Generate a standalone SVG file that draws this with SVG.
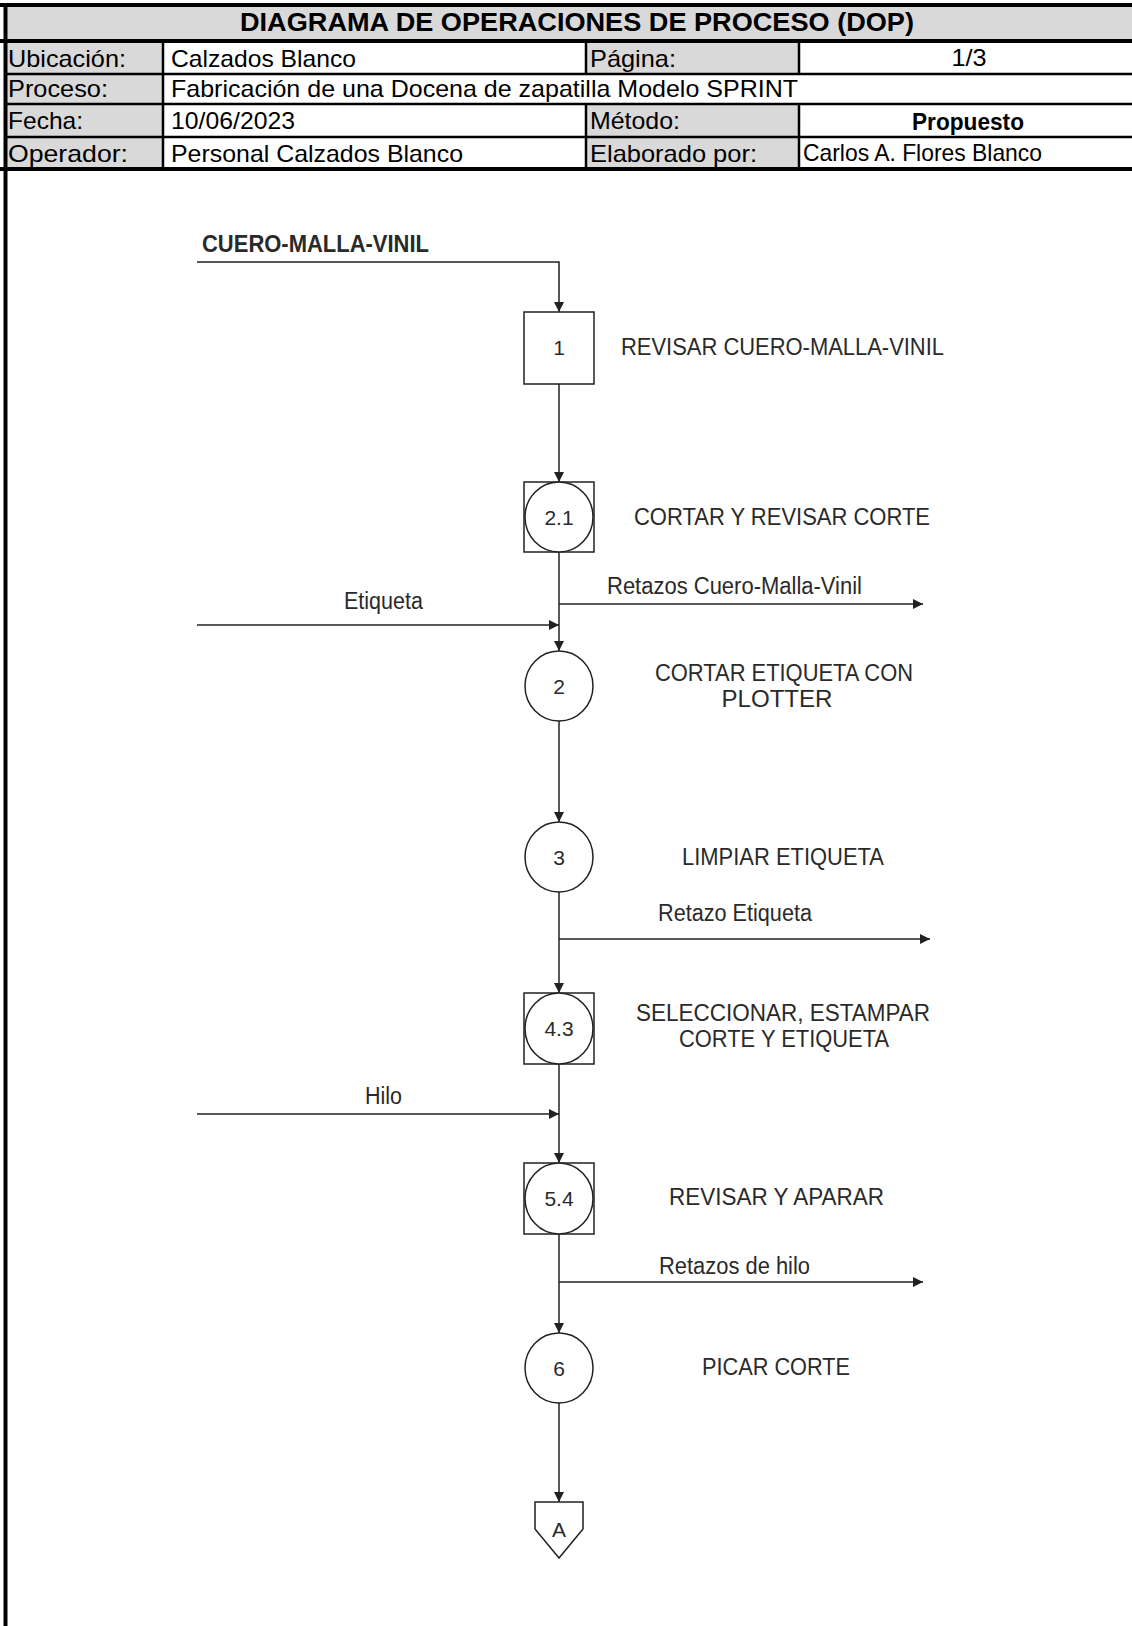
<svg xmlns="http://www.w3.org/2000/svg" width="1132" height="1626" viewBox="0 0 1132 1626">
<defs>
<style>
.hdr{font-family:"Liberation Sans",Arial,sans-serif;font-size:24px;fill:#000}
.ttl{font-family:"Liberation Sans",Arial,sans-serif;font-size:26px;font-weight:bold;fill:#000}
.t{font-family:"Liberation Sans",Arial,sans-serif;font-size:23px;fill:#2a2a2a}
.n{font-family:"Liberation Sans",Arial,sans-serif;font-size:21px;fill:#2a2a2a;text-anchor:middle}
.grey{fill:#d9d9d9}
.thick{stroke:#000;stroke-width:4}
.thin{stroke:#000;stroke-width:2.5}
.shape{fill:#fff;stroke:#222;stroke-width:1.5}
.flow{fill:none;stroke:#222;stroke-width:1.5}
</style>
<marker id="arr" viewBox="0 0 10 10" refX="10" refY="5" markerWidth="11" markerHeight="10" markerUnits="userSpaceOnUse" orient="auto">
<path d="M0,0 L10,5 L0,10 z" fill="#222"/>
</marker>
</defs>
<rect x="0" y="0" width="1132" height="1626" fill="#fff"/>
<g id="header">
<rect class="grey" x="5" y="5" width="1127" height="36"/>
<rect class="grey" x="5" y="41" width="158" height="128"/>
<rect class="grey" x="586" y="41" width="213" height="33"/>
<rect class="grey" x="586" y="104" width="213" height="65"/>
<line class="thick" x1="0" y1="5" x2="1132" y2="5"/>
<line class="thick" x1="0" y1="41" x2="1132" y2="41"/>
<line class="thin" x1="5" y1="74" x2="1132" y2="74"/>
<line class="thin" x1="5" y1="104" x2="1132" y2="104"/>
<line class="thin" x1="5" y1="137" x2="1132" y2="137"/>
<line class="thick" x1="0" y1="169" x2="1132" y2="169"/>
<line class="thick" x1="5.5" y1="3" x2="5.5" y2="1626"/>
<line class="thin" x1="163" y1="41" x2="163" y2="169"/>
<line class="thin" x1="586" y1="41" x2="586" y2="74"/>
<line class="thin" x1="799" y1="41" x2="799" y2="74"/>
<line class="thin" x1="586" y1="104" x2="586" y2="169"/>
<line class="thin" x1="799" y1="104" x2="799" y2="169"/>
<text class="ttl" x="577" y="31" text-anchor="middle" textLength="674" lengthAdjust="spacingAndGlyphs">DIAGRAMA DE OPERACIONES DE PROCESO (DOP)</text>
<text class="hdr" x="8" y="67" textLength="118" lengthAdjust="spacingAndGlyphs">Ubicación:</text>
<text class="hdr" x="171" y="67" textLength="185" lengthAdjust="spacingAndGlyphs">Calzados Blanco</text>
<text class="hdr" x="590" y="67" textLength="86" lengthAdjust="spacingAndGlyphs">Página:</text>
<text class="hdr" x="969" y="66" text-anchor="middle" font-size="20" textLength="35" lengthAdjust="spacingAndGlyphs">1/3</text>
<text class="hdr" x="8" y="97" textLength="100" lengthAdjust="spacingAndGlyphs">Proceso:</text>
<text class="hdr" x="171" y="97" textLength="627" lengthAdjust="spacingAndGlyphs">Fabricación de una Docena de zapatilla Modelo SPRINT</text>
<text class="hdr" x="8" y="129" textLength="75" lengthAdjust="spacingAndGlyphs">Fecha:</text>
<text class="hdr" x="171" y="129" textLength="124" lengthAdjust="spacingAndGlyphs">10/06/2023</text>
<text class="hdr" x="590" y="129" textLength="90" lengthAdjust="spacingAndGlyphs">Método:</text>
<text class="hdr" x="968" y="130" text-anchor="middle" font-size="20" font-weight="bold" textLength="112" lengthAdjust="spacingAndGlyphs">Propuesto</text>
<text class="hdr" x="8" y="162" textLength="120" lengthAdjust="spacingAndGlyphs">Operador:</text>
<text class="hdr" x="171" y="162" textLength="292" lengthAdjust="spacingAndGlyphs">Personal Calzados Blanco</text>
<text class="hdr" x="590" y="162" textLength="167" lengthAdjust="spacingAndGlyphs">Elaborado por:</text>
<text class="hdr" x="803" y="161" font-size="21" textLength="239" lengthAdjust="spacingAndGlyphs">Carlos A. Flores Blanco</text>
</g>
<g id="connectors">
<path class="flow" d="M197,262 H559 V312" marker-end="url(#arr)"/>
<line class="flow" x1="559" y1="384" x2="559" y2="482" marker-end="url(#arr)"/>
<line class="flow" x1="559" y1="552" x2="559" y2="651" marker-end="url(#arr)"/>
<line class="flow" x1="559" y1="604" x2="923" y2="604" marker-end="url(#arr)"/>
<line class="flow" x1="197" y1="625" x2="559" y2="625" marker-end="url(#arr)"/>
<line class="flow" x1="559" y1="721" x2="559" y2="822" marker-end="url(#arr)"/>
<line class="flow" x1="559" y1="892" x2="559" y2="993" marker-end="url(#arr)"/>
<line class="flow" x1="559" y1="939" x2="930" y2="939" marker-end="url(#arr)"/>
<line class="flow" x1="559" y1="1064" x2="559" y2="1163" marker-end="url(#arr)"/>
<line class="flow" x1="197" y1="1114" x2="559" y2="1114" marker-end="url(#arr)"/>
<line class="flow" x1="559" y1="1234" x2="559" y2="1333" marker-end="url(#arr)"/>
<line class="flow" x1="559" y1="1282" x2="923" y2="1282" marker-end="url(#arr)"/>
<line class="flow" x1="559" y1="1403" x2="559" y2="1502" marker-end="url(#arr)"/>
<text class="t" x="202" y="252" font-weight="bold" textLength="227" lengthAdjust="spacingAndGlyphs">CUERO-MALLA-VINIL</text>
<text class="t" x="607" y="594" textLength="255" lengthAdjust="spacingAndGlyphs">Retazos Cuero-Malla-Vinil</text>
<text class="t" x="344" y="609" textLength="79" lengthAdjust="spacingAndGlyphs">Etiqueta</text>
<text class="t" x="658" y="921" textLength="154" lengthAdjust="spacingAndGlyphs">Retazo Etiqueta</text>
<text class="t" x="365" y="1104" textLength="37" lengthAdjust="spacingAndGlyphs">Hilo</text>
<text class="t" x="659" y="1274" textLength="151" lengthAdjust="spacingAndGlyphs">Retazos de hilo</text>
</g>
<g id="op1">
<rect class="shape" x="524" y="312" width="70" height="72"/>
<text class="n" x="559" y="355">1</text>
<text class="t" x="621" y="355" textLength="323" lengthAdjust="spacingAndGlyphs">REVISAR CUERO-MALLA-VINIL</text>
</g>
<g id="op2_1">
<rect class="shape" x="524" y="482" width="70" height="70"/>
<ellipse class="shape" cx="559" cy="517" rx="34" ry="35"/>
<text class="n" x="559" y="525">2.1</text>
<text class="t" x="634" y="525" textLength="296" lengthAdjust="spacingAndGlyphs">CORTAR Y REVISAR CORTE</text>
</g>
<g id="op2">
<ellipse class="shape" cx="559" cy="686" rx="34" ry="35"/>
<text class="n" x="559" y="694">2</text>
<text class="t" x="784" y="681" text-anchor="middle" textLength="258" lengthAdjust="spacingAndGlyphs">CORTAR ETIQUETA CON</text>
<text class="t" x="777" y="707" text-anchor="middle" textLength="111" lengthAdjust="spacingAndGlyphs">PLOTTER</text>
</g>
<g id="op3">
<ellipse class="shape" cx="559" cy="857" rx="34" ry="35"/>
<text class="n" x="559" y="865">3</text>
<text class="t" x="682" y="865" textLength="202" lengthAdjust="spacingAndGlyphs">LIMPIAR ETIQUETA</text>
</g>
<g id="op4_3">
<rect class="shape" x="524" y="993" width="70" height="71"/>
<ellipse class="shape" cx="559" cy="1028.5" rx="34" ry="35.5"/>
<text class="n" x="559" y="1036">4.3</text>
<text class="t" x="783" y="1021" text-anchor="middle" textLength="294" lengthAdjust="spacingAndGlyphs">SELECCIONAR, ESTAMPAR</text>
<text class="t" x="784" y="1047" text-anchor="middle" textLength="210" lengthAdjust="spacingAndGlyphs">CORTE Y ETIQUETA</text>
</g>
<g id="op5_4">
<rect class="shape" x="524" y="1163" width="70" height="71"/>
<ellipse class="shape" cx="559" cy="1198.5" rx="34" ry="35.5"/>
<text class="n" x="559" y="1206">5.4</text>
<text class="t" x="669" y="1205" textLength="215" lengthAdjust="spacingAndGlyphs">REVISAR Y APARAR</text>
</g>
<g id="op6">
<ellipse class="shape" cx="559" cy="1368" rx="34" ry="35"/>
<text class="n" x="559" y="1376">6</text>
<text class="t" x="702" y="1375" textLength="148" lengthAdjust="spacingAndGlyphs">PICAR CORTE</text>
</g>
<g id="connA">
<path class="shape" d="M535,1502 H583 V1529 L559,1558 L535,1529 Z"/>
<text class="n" x="559" y="1537">A</text>
</g>
</svg>
